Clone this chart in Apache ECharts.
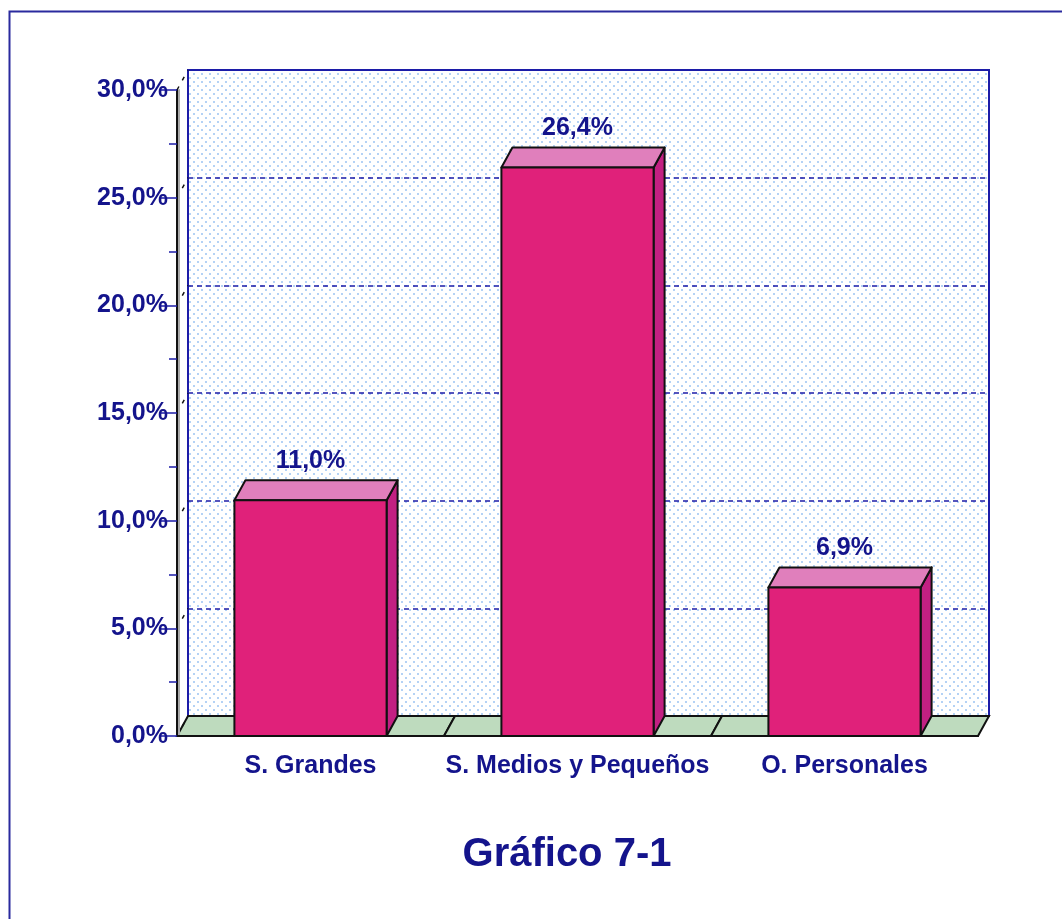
<!DOCTYPE html>
<html>
<head>
<meta charset="utf-8">
<script src="https://cdn.jsdelivr.net/npm/echarts@6/dist/echarts.min.js"></script>
<style>
  html, body { margin: 0; padding: 0; background: #fff; }
  #main { width: 1062px; height: 919px; }
</style>
</head>
<body>
<div id="main"></div>
<script>
var categories = ['S. Grandes', 'S. Medios y Pequeños', 'O. Personales'];
var barValues = [10.95, 26.4, 6.9];
var barLabels = ['11,0%', '26,4%', '6,9%'];
var majorTicks = [0, 5, 10, 15, 20, 25, 30];

var navy = '#14148c';
var fontName = '"Liberation Sans", Arial, sans-serif';
// offset of the back wall from the front plane
var depthX = 11;
var depthY = -20;

// dotted fill of the back wall
var dots = document.createElement('canvas');
dots.width = 8;
dots.height = 8;
var dc = dots.getContext('2d');
dc.fillStyle = '#ffffff';
dc.fillRect(0, 0, 8, 8);
dc.fillStyle = '#b4d2f5';
dc.fillRect(1, 1, 2, 2);
dc.fillRect(5, 5, 2, 2);

var chart = echarts.init(document.getElementById('main'));

function renderFloor(params, api) {
  var p = api.coord([api.value(0), 0]);
  var w = api.size([1, 0])[0];
  var x0 = p[0] - w / 2;
  var x1 = p[0] + w / 2;
  return {
    type: 'polygon',
    shape: { points: [[x0, p[1]], [x1, p[1]], [x1 + depthX, p[1] + depthY], [x0 + depthX, p[1] + depthY]] },
    style: { fill: '#bedbbe', stroke: '#111', lineWidth: 2 }
  };
}

function renderBar(params, api) {
  var base = api.coord([api.value(0), 0]);
  var top = api.coord([api.value(0), api.value(1)]);
  var w = api.size([1, 0])[0] * 0.57;
  var x0 = base[0] - w / 2;
  var x1 = base[0] + w / 2;
  var edge = { stroke: '#111', lineWidth: 2, lineJoin: 'round' };
  return {
    type: 'group',
    children: [
      {
        type: 'polygon',
        shape: { points: [[x1, top[1]], [x1 + depthX, top[1] + depthY], [x1 + depthX, base[1] + depthY], [x1, base[1]]] },
        style: Object.assign({ fill: '#c22082' }, edge)
      },
      {
        type: 'polygon',
        shape: { points: [[x0, top[1]], [x1, top[1]], [x1 + depthX, top[1] + depthY], [x0 + depthX, top[1] + depthY]] },
        style: Object.assign({ fill: '#e07fbc' }, edge)
      },
      {
        type: 'rect',
        shape: { x: x0, y: top[1], width: w, height: base[1] - top[1] },
        style: Object.assign({ fill: '#e0217a' }, edge)
      },
      {
        type: 'text',
        style: {
          text: barLabels[params.dataIndex],
          x: base[0],
          y: top[1] + depthY - 19,
          align: 'center',
          verticalAlign: 'middle',
          fill: navy,
          font: 'bold 25px ' + fontName
        }
      }
    ]
  };
}

function renderDepthTick(params, api) {
  var y = api.coord([0, api.value(0)])[1];
  var x = params.coordSys.x;
  return {
    type: 'line',
    shape: { x1: x, y1: y, x2: x + depthX, y2: y + depthY },
    style: { stroke: '#111', lineWidth: 1.5, lineDash: [4, 7] }
  };
}

chart.setOption({
  animation: false,
  backgroundColor: '#ffffff',
  title: {
    text: 'Gráfico 7-1',
    left: 562,
    top: 830,
    textAlign: 'center',
    textStyle: { color: navy, fontSize: 40, fontWeight: 'bold', fontFamily: fontName }
  },
  grid: [
    { left: 177, top: 90, width: 801, height: 646 },
    {
      left: 177 + depthX, top: 90 + depthY, width: 801, height: 646,
      show: true,
      backgroundColor: { image: dots, repeat: 'repeat' },
      borderColor: '#1c1ca8',
      borderWidth: 2
    }
  ],
  xAxis: [
    {
      type: 'category',
      gridIndex: 0,
      data: categories,
      z: 5,
      axisLine: { lineStyle: { color: '#111', width: 2 } },
      axisTick: { alignWithLabel: true, length: 14, lineStyle: { color: '#1c1ca8', width: 1.5 } },
      axisLabel: {
        color: navy,
        fontSize: 25,
        fontWeight: 'bold',
        fontFamily: fontName,
        margin: 18,
        interval: 0
      }
    },
    { type: 'category', gridIndex: 1, data: categories, show: false }
  ],
  yAxis: [
    {
      type: 'value',
      gridIndex: 0,
      min: 0,
      max: 30,
      interval: 5,
      z: 5,
      axisLine: { show: true, lineStyle: { color: '#111', width: 2, shadowColor: '#aaa', shadowOffsetX: 2 } },
      axisTick: { show: true, length: 16, lineStyle: { color: '#1c1ca8', width: 1.5 } },
      minorTick: { show: true, splitNumber: 2, length: 8, lineStyle: { color: '#1c1ca8', width: 1.5 } },
      splitLine: { show: false },
      axisLabel: {
        color: navy,
        fontSize: 25,
        fontWeight: 'bold',
        fontFamily: fontName,
        margin: 9,
        formatter: function (v) { return v.toFixed(1).replace('.', ',') + '%'; }
      }
    },
    {
      type: 'value',
      gridIndex: 1,
      min: 0,
      max: 30,
      interval: 5,
      axisLine: { show: false },
      axisTick: { show: false },
      axisLabel: { show: false },
      splitLine: { show: true, lineStyle: { color: '#1c1ca8', width: 1.5, type: [5, 4] } }
    }
  ],
  series: [
    {
      type: 'custom',
      name: 'floor',
      xAxisIndex: 0,
      yAxisIndex: 0,
      z: 2,
      silent: true,
      clip: false,
      renderItem: renderFloor,
      data: categories.map(function (c, i) { return [i]; }),
      encode: { x: 0 }
    },
    {
      type: 'custom',
      name: 'depth ticks',
      xAxisIndex: 0,
      yAxisIndex: 0,
      z: 2,
      silent: true,
      clip: false,
      renderItem: renderDepthTick,
      data: majorTicks.map(function (v) { return [v]; }),
      encode: { y: 0 }
    },
    {
      type: 'custom',
      name: 'bars',
      xAxisIndex: 0,
      yAxisIndex: 0,
      z: 3,
      silent: true,
      clip: false,
      renderItem: renderBar,
      data: barValues.map(function (v, i) { return [i, v]; }),
      encode: { x: 0, y: 1 }
    }
  ],
  graphic: [
    {
      type: 'polyline',
      silent: true,
      shape: { points: [[9.5, 919], [9.5, 11.5], [1062, 11.5]] },
      style: { stroke: '#2a2a9e', lineWidth: 2, fill: null }
    }
  ]
});
</script>
</body>
</html>
